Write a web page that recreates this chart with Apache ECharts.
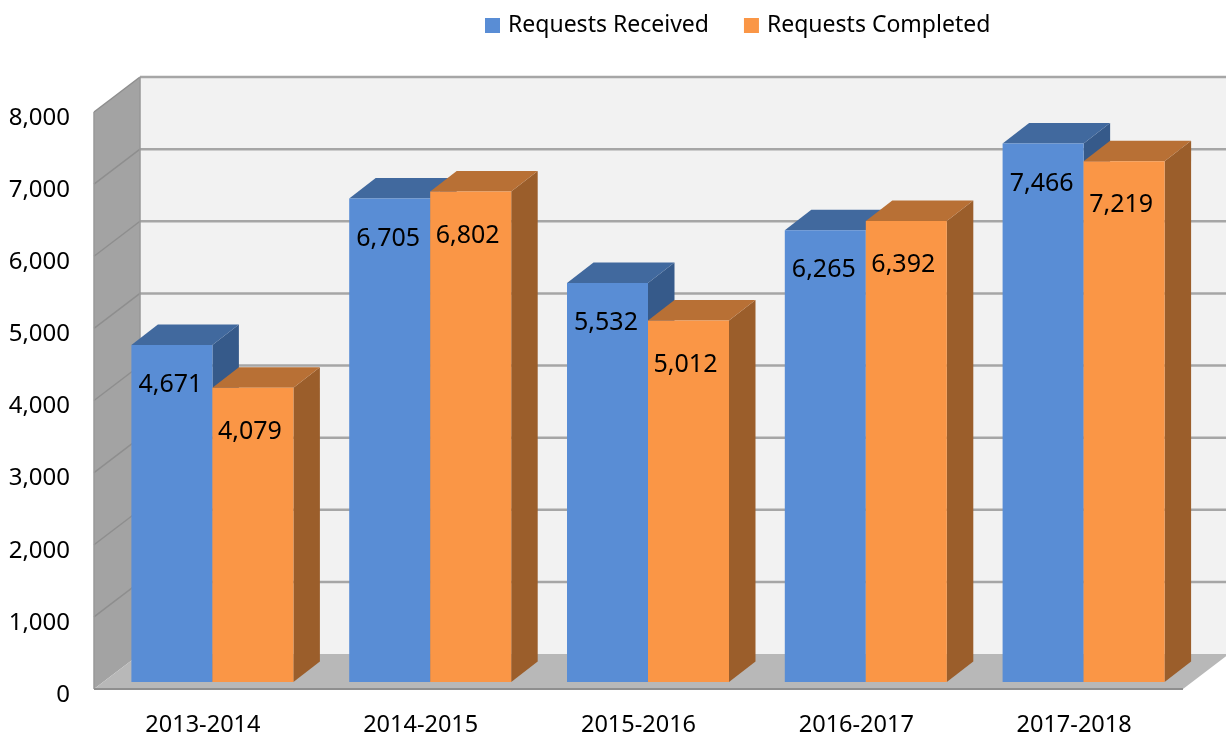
<!DOCTYPE html>
<html>
<head>
<meta charset="utf-8">
<title>Requests</title>
<style>
  html,body{margin:0;padding:0;background:#fff;}
  #main{width:1226px;height:736px;}
</style>
<script src="https://cdn.jsdelivr.net/npm/echarts@6/dist/echarts.min.js"></script>
</head>
<body>
<div id="main"></div>
<script>
var years=['2013-2014','2014-2015','2015-2016','2016-2017','2017-2018'];
var received=[4671,6705,5532,6265,7466];
var completed=[4079,6802,5012,6392,7219];
var yTicks=[0,1000,2000,3000,4000,5000,6000,7000,8000];

var FONT='"Noto Sans"';
//墙的进深 / 柱子的进深
var WALL_DX=46,WALL_DY=-35;
var BAR_DX=26.5,BAR_DY=-20.5;
var BAR_W=81,BAR_SHIFT_Y=-7;

function poly(points,fill,z){
  return {type:'polygon',shape:{points:points},style:{fill:fill},z2:z||0};
}
function line(x1,y1,x2,y2,color,w){
  return {type:'line',shape:{x1:x1,y1:y1,x2:x2,y2:y2},style:{stroke:color,lineWidth:w||2,fill:null}};
}

//背景墙，地面，网格线
function renderWalls(params,api){
  var cs=params.coordSys;
  var l=cs.x,r=cs.x+cs.width;
  var y0=api.coord([0,0])[1],yMax=api.coord([0,8000])[1];
  var kids=[
    poly([[l+WALL_DX,yMax+WALL_DY],[r+WALL_DX,yMax+WALL_DY],[r+WALL_DX,y0+WALL_DY],[l+WALL_DX,y0+WALL_DY]],'#f2f2f2'),
    poly([[l,yMax],[l+WALL_DX,yMax+WALL_DY],[l+WALL_DX,y0+WALL_DY],[l,y0]],'#a3a3a3'),
    poly([[l,y0],[l+WALL_DX,y0+WALL_DY],[r+WALL_DX,y0+WALL_DY],[r,y0]],'#b8b8b8')
  ];
  for(var i=1;i<yTicks.length;i++){
    var y=api.coord([0,yTicks[i]])[1];
    kids.push(line(l,y,l+WALL_DX,y+WALL_DY,'#8e8e8e',1.5));
    kids.push(line(l+WALL_DX,y+WALL_DY,r+WALL_DX,y+WALL_DY,'#a6a6a6',2.5));
  }
  kids.push(line(l,yMax,l,y0,'#999999',1.5));
  kids.push(line(l+WALL_DX,yMax+WALL_DY,l+WALL_DX,y0+WALL_DY,'#979797',1.5));
  kids.push(line(l,y0,r,y0,'#8f8f8f',2));
  return {type:'group',children:kids};
}

//一根柱子：正面 + 顶面 + 侧面
function makeBarRender(offset,front,top,side,labelDx,labelDy){
  return function(params,api){
    var i=api.value(0),v=api.value(1);
    var cx=api.coord([i,0])[0];
    var x=cx+offset;
    var yb=api.coord([i,0])[1]+BAR_SHIFT_Y;
    var yt=api.coord([i,v])[1]+BAR_SHIFT_Y;
    var x2=x+BAR_W;
    return {type:'group',children:[
      poly([[x2,yt],[x2+BAR_DX,yt+BAR_DY],[x2+BAR_DX,yb+BAR_DY],[x2,yb]],side),
      poly([[x,yt],[x+BAR_DX,yt+BAR_DY],[x2+BAR_DX,yt+BAR_DY],[x2,yt]],top),
      poly([[x,yt],[x2,yt],[x2,yb],[x,yb]],front),
      {type:'text',x:x+BAR_W/2+labelDx,y:yt+labelDy,style:{
        text:echarts.format.addCommas(v),
        fontFamily:FONT,fontSize:25,fill:'#000',align:'center',verticalAlign:'middle'
      }}
    ]};
  };
}

function toPairs(arr){
  var out=[];
  for(var i=0;i<arr.length;i++){out[i]=[i,arr[i]];}
  return out;
}

var myChart=echarts.init(document.getElementById('main'),null,{renderer:'canvas'});
var option={
  animation:false,
  backgroundColor:'#fff',
  color:['#598dd5','#fa9646'],
  legend:{
    data:['Requests Received','Requests Completed'],
    left:480,top:9,
    icon:'rect',itemWidth:15,itemHeight:15,itemGap:35,
    textStyle:{fontFamily:FONT,fontSize:23,color:'#000',padding:[0,0,0,3]}
  },
  grid:{left:94,right:43,top:112,bottom:47,outerBoundsMode:'none'},
  xAxis:{
    type:'category',data:years,
    axisLine:{show:false},axisTick:{show:false},
    axisLabel:{fontFamily:FONT,fontSize:23.5,color:'#000',margin:24}
  },
  yAxis:{
    type:'value',min:0,max:8000,interval:1000,
    axisLine:{show:false},axisTick:{show:false},splitLine:{show:false},
    axisLabel:{
      fontFamily:FONT,fontSize:24,color:'#000',margin:24,
      verticalAlign:'top',lineHeight:12,
      formatter:function(v){return echarts.format.addCommas(v);}
    }
  },
  series:[
    {type:'custom',name:'walls',renderItem:renderWalls,data:[[0,0]],silent:true,z:1},
    {type:'custom',name:'Requests Received',renderItem:makeBarRender(-71.5,'#598dd5','#41699e','#365a8a',-1.5,40),
      data:toPairs(received),encode:{x:0,y:1},itemStyle:{color:'#598dd5'},z:2},
    {type:'custom',name:'Requests Completed',renderItem:makeBarRender(9.5,'#fa9646','#b87035','#9b5e2b',-3,44),
      data:toPairs(completed),encode:{x:0,y:1},itemStyle:{color:'#fa9646'},z:3}
  ]
};
myChart.setOption(option);
</script>
</body>
</html>
